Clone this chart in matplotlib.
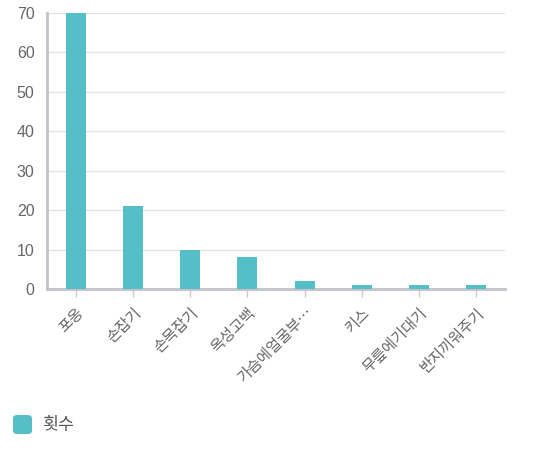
import matplotlib
matplotlib.use("Agg")
import matplotlib.pyplot as plt
from matplotlib.patches import FancyBboxPatch

plt.rcParams['font.family'] = ['Noto Sans CJK KR', 'DejaVu Sans']

categories = ["포옹", "손잡기", "손목잡기", "옥성고백", "가슴에얼굴부…", "키스", "무릎에기대기", "반지끼워주기"]
values = [70, 21, 10, 8, 2, 1, 1, 1]
yticks = [0, 10, 20, 30, 40, 50, 60, 70]
series_name = "횟수"

W, H = 538, 450
fig = plt.figure(figsize=(W / 100, H / 100), dpi=100)
ax = fig.add_axes([47 / W, 1 - 289 / H, (505 - 47) / W, (289 - 13) / H])

color = "#56BEC7"
x = list(range(len(categories)))
ax.bar(x, values, width=0.35, color=color, zorder=3)
ax.set_xlim(-0.5, len(categories) - 0.5)
ax.set_ylim(0, 70)
ax.set_yticks(yticks)
ax.set_yticklabels([str(v) for v in yticks], color="#666666", fontsize=11.5,
                   family=['Liberation Sans', 'DejaVu Sans'])
ax.set_xticks(x)
ax.set_xticklabels(categories, rotation=45, ha="right", rotation_mode="anchor",
                   color="#666666", fontsize=11)
ax.grid(axis="y", color="#e3e3e3", linewidth=1, zorder=0)
for s in ["top", "right"]:
    ax.spines[s].set_visible(False)
for s in ["left", "bottom"]:
    ax.spines[s].set_color("#c0c3c8")
    ax.spines[s].set_linewidth(2)
ax.tick_params(axis="y", length=0, pad=9)
ax.tick_params(axis="x", length=6, width=1, color="#c8cbd0", pad=5)

# legend
fig.patches.append(FancyBboxPatch((13 / W, 1 - 434 / H), 19 / W, 19 / H,
                                  boxstyle="round,pad=0,rounding_size=0.008",
                                  transform=fig.transFigure, facecolor=color,
                                  edgecolor="none"))
fig.text(42 / W, 1 - 425 / H, series_name, va="center", ha="left",
         fontsize=12.5, color="#555555")

fig.savefig("out.png", dpi=100)
